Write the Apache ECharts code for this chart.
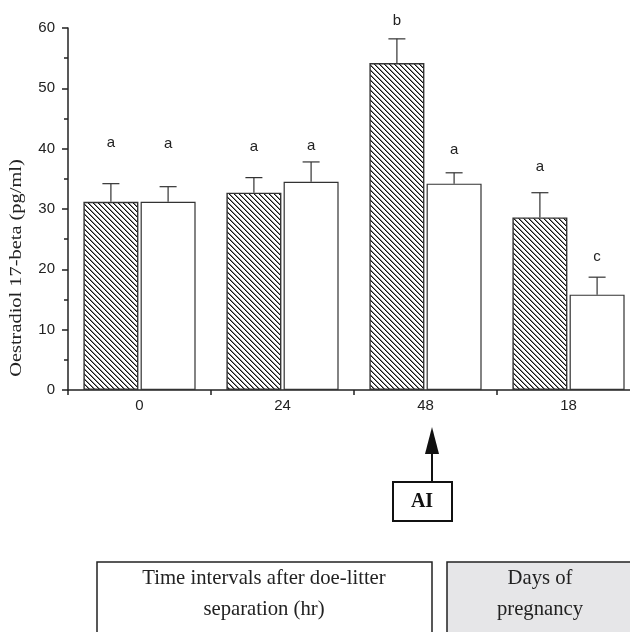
<!DOCTYPE html>
<html>
<head>
<meta charset="utf-8">
<script src="https://cdn.jsdelivr.net/npm/echarts@6/dist/echarts.min.js"></script>
<style>
  html, body { margin: 0; padding: 0; background: #fff; }
  #main { width: 630px; height: 632px; }
</style>
</head>
<body>
<div id="main"></div>
<script>
// data
var categories = ['0', '24', '48', '18']
var hatchedValues = [31.2, 32.7, 54.2, 28.6]
var hatchedErrors = [3.0, 2.5, 4.0, 4.1]
var openValues = [31.2, 34.5, 34.2, 15.8]
var openErrors = [2.5, 3.3, 1.8, 2.9]
var hatchedLetters = ['a', 'a', 'b', 'a']
var hatchedLetterY = [40.9, 40.3, 61.2, 37.0]
var openLetters = ['a', 'a', 'a', 'c']
var openLetterY = [40.8, 40.5, 39.8, 22.1]

var ink = '#222'
var serif = '"Liberation Serif", "DejaVu Serif", serif'
var sans = '"Liberation Sans", Arial, sans-serif'

// "\\\\" hatch tile, drawn pixel by pixel so it stays crisp
function makeHatch () {
  var s = 5
  var c = document.createElement('canvas')
  c.width = s
  c.height = s
  var ctx = c.getContext('2d')
  ctx.fillStyle = '#fff'
  ctx.fillRect(0, 0, s, s)
  for (var y = 0; y < s; y++) {
    ctx.fillStyle = '#111'
    ctx.fillRect(y, y, 1, 1)
    ctx.fillStyle = '#888'
    ctx.fillRect((y + 1) % s, y, 1, 1)
  }
  return c
}

function errorBars (values, errors, side) {
  return {
    type: 'custom',
    z: 5,
    encode: { x: 0, y: [1, 2] },
    data: values.map(function (v, i) { return [i, v, v + errors[i]] }),
    renderItem: function (params, api) {
      var band = api.size([1, 0])[0]
      var x = api.coord([api.value(0), 0])[0] + side * band * 0.2
      var y0 = api.coord([api.value(0), api.value(1)])[1]
      var y1 = api.coord([api.value(0), api.value(2)])[1]
      var style = { stroke: '#333', lineWidth: 1.2 }
      return {
        type: 'group',
        children: [
          { type: 'line', shape: { x1: x, y1: y0, x2: x, y2: y1 }, style: style },
          { type: 'line', shape: { x1: x - 8.5, y1: y1, x2: x + 8.5, y2: y1 }, style: style }
        ]
      }
    }
  }
}

function letters (labels, ys, side) {
  return {
    type: 'custom',
    z: 6,
    encode: { x: 0, y: 1 },
    data: ys.map(function (y, i) { return [i, y, labels[i]] }),
    renderItem: function (params, api) {
      var band = api.size([1, 0])[0]
      var p = api.coord([api.value(0), api.value(1)])
      return {
        type: 'text',
        style: {
          text: labels[params.dataIndex],
          x: p[0] + side * band * 0.2,
          y: p[1],
          align: 'center',
          verticalAlign: 'middle',
          font: '15px ' + sans,
          fill: ink
        }
      }
    }
  }
}

var chart = echarts.init(document.getElementById('main'))
var option = {
  animation: false,
  backgroundColor: '#fff',
  grid: { left: 68, top: 28, width: 572, height: 362, outerBoundsMode: 'none', containLabel: false },
  xAxis: {
    type: 'category',
    data: categories,
    axisLine: { lineStyle: { color: ink, width: 1.5 } },
    axisTick: { show: true, length: 5, lineStyle: { color: ink, width: 1.5 } },
    axisLabel: { color: ink, fontSize: 15, fontFamily: sans, margin: 8 },
    splitLine: { show: false }
  },
  yAxis: {
    type: 'value',
    min: 0,
    max: 60,
    interval: 10,
    axisLine: { show: true, lineStyle: { color: ink, width: 1.5 } },
    axisTick: { show: true, length: 6, lineStyle: { color: ink, width: 1.5 } },
    minorTick: { show: true, splitNumber: 2, length: 4, lineStyle: { color: ink, width: 1.5 } },
    axisLabel: { color: ink, fontSize: 15, fontFamily: sans, margin: 13 },
    splitLine: { show: false }
  },
  series: [
    {
      type: 'bar',
      data: hatchedValues,
      barWidth: 55,
      barGap: '4%',
      itemStyle: {
        color: { image: makeHatch(), repeat: 'repeat' },
        borderColor: '#333',
        borderWidth: 1.4
      }
    },
    {
      type: 'bar',
      data: openValues,
      barWidth: 55,
      barGap: '4%',
      itemStyle: { color: '#fff', borderColor: '#333', borderWidth: 1.2 }
    },
    errorBars(hatchedValues, hatchedErrors, -1),
    errorBars(openValues, openErrors, 1),
    letters(hatchedLetters, hatchedLetterY, -1),
    letters(openLetters, openLetterY, 1)
  ],
  graphic: [
    {
      type: 'text',
      x: 17,
      y: 268,
      rotation: Math.PI / 2,
      scaleX: 1.2,
      style: {
        text: 'Oestradiol 17-beta (pg/ml)',
        font: '17px ' + serif,
        fill: ink,
        align: 'center',
        verticalAlign: 'middle'
      }
    },
    // arrow to AI
    {
      type: 'line',
      shape: { x1: 432, y1: 450, x2: 432, y2: 482 },
      style: { stroke: '#111', lineWidth: 2 }
    },
    {
      type: 'polygon',
      shape: { points: [[432, 427], [425, 454], [439, 454]] },
      style: { fill: '#111' }
    },
    {
      type: 'rect',
      shape: { x: 393, y: 482, width: 59, height: 39 },
      style: { fill: '#fff', stroke: '#111', lineWidth: 2 }
    },
    {
      type: 'text',
      x: 422,
      y: 502,
      style: { text: 'AI', font: 'bold 20px ' + serif, fill: '#111', align: 'center', verticalAlign: 'middle' }
    },
    // bottom boxes
    {
      type: 'rect',
      shape: { x: 97, y: 562, width: 335, height: 90 },
      style: { fill: '#fff', stroke: ink, lineWidth: 1.5 }
    },
    {
      type: 'rect',
      shape: { x: 447, y: 562, width: 190, height: 90 },
      style: { fill: '#e6e6e8', stroke: ink, lineWidth: 1.5 }
    },
    {
      type: 'text',
      x: 264,
      y: 594,
      style: {
        text: 'Time intervals after doe-litter\nseparation (hr)',
        font: '20.7px ' + serif,
        lineHeight: 31,
        fill: ink,
        align: 'center',
        verticalAlign: 'middle'
      }
    },
    {
      type: 'text',
      x: 540,
      y: 594,
      style: {
        text: 'Days of\npregnancy',
        font: '20.7px ' + serif,
        lineHeight: 31,
        fill: ink,
        align: 'center',
        verticalAlign: 'middle'
      }
    }
  ]
}
chart.setOption(option)
</script>
</body>
</html>
